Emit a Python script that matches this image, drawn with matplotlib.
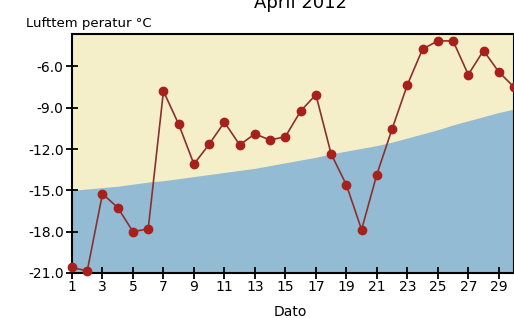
import numpy as np
import matplotlib.pyplot as plt

# === DATA ===
days = list(range(1, 31))
temp = [-20.6, -20.85, -15.25, -16.25, -18.0, -17.8, -7.8, -10.2, -13.1, -11.65,
        -10.05, -11.7, -10.9, -11.35, -11.1, -9.25, -8.05, -12.35, -14.6, -17.85,
        -13.85, -10.55, -7.35, -4.75, -4.15, -4.15, -6.6, -4.85, -6.4, -7.5]
normal = [-15.0, -14.9, -14.8, -14.7, -14.55, -14.4, -14.3, -14.15, -14.0, -13.85,
          -13.7, -13.55, -13.4, -13.2, -13.0, -12.8, -12.6, -12.35, -12.15, -11.95,
          -11.75, -11.5, -11.2, -10.9, -10.6, -10.25, -9.95, -9.65, -9.35, -9.1]
yticks = [-21.0, -18.0, -15.0, -12.0, -9.0, -6.0]
xticks = list(range(1, 31, 2))

yellow = '#f4efc9'
blue = '#93bbd4'
red = '#a8201c'

fig = plt.figure(figsize=(5.14, 3.18), dpi=100)
ax = fig.add_axes([72 / 514, 1 - 273 / 318, 442 / 514, 239 / 318])
ax.set_facecolor(yellow)
ymin, ymax = -21.0, -3.65
ax.fill_between(days, ymin, normal, color=blue, lw=0)
ax.plot(days, temp, color='#8a3030', lw=1.2, marker='o', ms=6,
        mfc=red, mec=red, zorder=3, clip_on=False)

ax.set_xlim(1, 30)
ax.set_ylim(ymin, ymax)
ax.set_xticks(xticks)
ax.set_yticks(yticks)
ax.set_yticklabels([f'{v:.1f}' for v in yticks])
ax.tick_params(direction='inout', length=8, width=1.3, labelsize=10, color='black')
ax.tick_params(axis='y', pad=2)
ax.tick_params(axis='x', pad=1)
for s in ax.spines.values():
    s.set_linewidth(1.5)

fig.text(26 / 514, 1 - 23 / 318, 'Lufttem peratur °C', fontsize=9.5, va='center')
fig.text(300 / 514, 1 - 3 / 318, 'April 2012', fontsize=13, ha='center', va='center')
fig.text(290 / 514, 1 - 312 / 318, 'Dato', fontsize=10, ha='center', va='center')

fig.savefig('out.png', dpi=100)
